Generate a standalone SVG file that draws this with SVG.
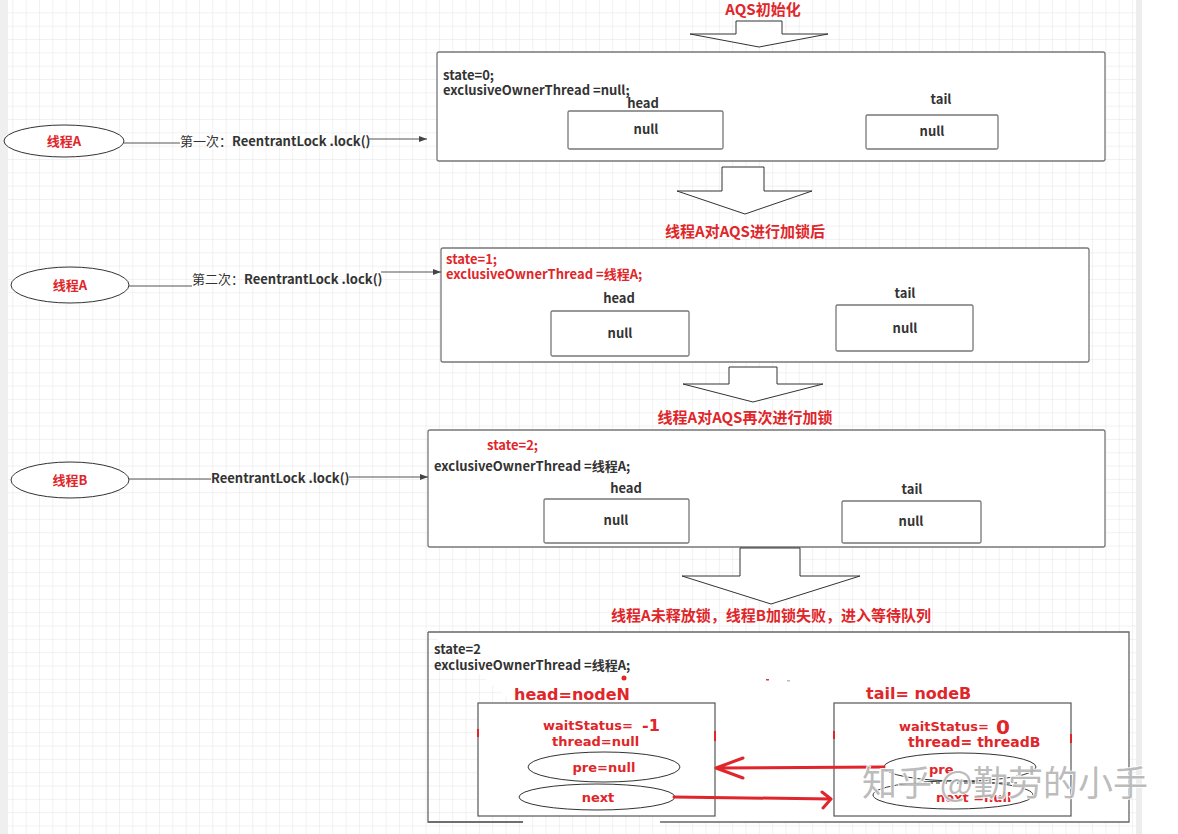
<svg xmlns="http://www.w3.org/2000/svg" width="1178" height="834" viewBox="0 0 1178 834">
<style>
.t{font-family:"Noto Sans CJK SC","Liberation Sans",sans-serif;font-weight:bold;font-size:13px;fill:#333}
.n{font-weight:normal}
.r{fill:#e0262a}
.ti{font-family:"Noto Sans CJK SC","Liberation Sans",sans-serif;font-weight:bold;font-size:15px;fill:#e0262a;text-anchor:middle}
.m{text-anchor:middle}
.box{fill:#fff;stroke:#777;stroke-width:1.3}
.inner{fill:#fff;stroke:#777;stroke-width:1.3}
.ell{fill:#fff;stroke:#333;stroke-width:1}
.barrow{fill:#fff;stroke:#333;stroke-width:1}
.ln{fill:none;stroke:#555;stroke-width:1.2}
.rn{font-family:"DejaVu Sans",sans-serif;font-weight:bold;fill:#e0262a}
.ra{fill:none;stroke:#e0262a;stroke-width:3;stroke-linecap:round;stroke-linejoin:round}
</style>
<defs>
<pattern id="grid" width="13.33" height="13.33" patternUnits="userSpaceOnUse">
<path d="M13.33 0V13.33H0" fill="none" stroke="#e4e4e4" stroke-width="1"/>
</pattern>
<marker id="ah" markerWidth="8" markerHeight="6" refX="8" refY="3" orient="auto" markerUnits="userSpaceOnUse">
<path d="M0 0L8 3L0 6z" fill="#444"/>
</marker>
</defs>
<rect width="1178" height="834" fill="#fff"/>
<rect x="8" y="0" width="1128" height="834" fill="url(#grid)"/>
<rect x="0" y="0" width="8" height="834" fill="#efefef"/>
<rect x="1136" y="0" width="6" height="834" fill="#ededed"/>

<g id="title1"><text class="ti" x="763" y="15">AQS初始化</text></g>
<g id="barrow1"><polygon class="barrow" points="736,21 782,21 782,34 828,34 759,47 690,34 736,34"/></g>

<g id="aqs1">
<rect class="box" x="437" y="52" width="668" height="109" rx="2"/>
<text class="t" x="443" y="80">state=0;</text>
<text class="t" x="443" y="95">exclusiveOwnerThread =null;</text>
<text class="t m" x="643" y="108">head</text>
<rect class="inner" x="568" y="111" width="155" height="38" rx="1.5"/>
<text class="t m" x="646" y="134">null</text>
<text class="t m" x="941" y="104">tail</text>
<rect class="inner" x="866" y="115" width="132" height="34" rx="1.5"/>
<text class="t m" x="932" y="136">null</text>
</g>

<g id="threadA1">
<ellipse class="ell" cx="64" cy="141" rx="60" ry="16"/>
<text class="t r m" x="64" y="146">线程A</text>
</g>

<g id="barrow2"><polygon class="barrow" points="722,167 764,167 764,191 812,191 745,214 677,191 722,191"/></g>
<g id="title2"><text class="ti" x="745" y="237">线程A对AQS进行加锁后</text></g>

<g id="aqs2">
<rect class="box" x="441" y="248" width="648" height="114" rx="2"/>
<text class="t r" x="446" y="264">state=1;</text>
<text class="t r" x="446" y="279">exclusiveOwnerThread =线程A;</text>
<text class="t m" x="619" y="303">head</text>
<rect class="inner" x="551" y="311" width="138" height="45" rx="1.5"/>
<text class="t m" x="620" y="338">null</text>
<text class="t m" x="905" y="298">tail</text>
<rect class="inner" x="836" y="305" width="137" height="46" rx="1.5"/>
<text class="t m" x="905" y="333">null</text>
</g>

<g id="threadA2">
<ellipse class="ell" cx="70" cy="285" rx="59" ry="18"/>
<text class="t r m" x="70" y="290">线程A</text>
</g>

<g id="barrow3"><polygon class="barrow" points="729,367 777,367 777,384 823,384 753,402 683,384 729,384"/></g>
<g id="title3"><text class="ti" x="745" y="423">线程A对AQS再次进行加锁</text></g>

<g id="aqs3">
<rect class="box" x="428" y="430" width="677" height="117" rx="2"/>
<text class="t r" x="487" y="450">state=2;</text>
<text class="t" x="434" y="471">exclusiveOwnerThread =线程A;</text>
<text class="t m" x="626" y="493">head</text>
<rect class="inner" x="544" y="499" width="145" height="44" rx="1.5"/>
<text class="t m" x="616" y="525">null</text>
<text class="t m" x="912" y="494">tail</text>
<rect class="inner" x="842" y="501" width="139" height="42" rx="1.5"/>
<text class="t m" x="911" y="526">null</text>
</g>

<g id="threadB">
<ellipse class="ell" cx="70" cy="480" rx="59" ry="18"/>
<text class="t r m" x="70" y="485">线程B</text>
</g>

<g id="barrow4"><polygon class="barrow" points="740,548 800,548 800,576 860,576 771,604 682,576 740,576"/></g>
<g id="title4"><text class="ti" x="771" y="621">线程A未释放锁，线程B加锁失败，进入等待队列</text></g>

<g id="aqs4">
<path d="M428 632H1129V822H660M523 822H428Z" fill="#fff" stroke="#666" stroke-width="1.3"/>
<path d="M523 822H428V632" fill="none" stroke="#666" stroke-width="1.3"/>
<text class="t" x="434" y="654">state=2</text>
<text class="t" x="434" y="670">exclusiveOwnerThread =线程A;</text>
<circle cx="624" cy="678" r="2.5" fill="#e0262a"/>
<rect x="766" y="679" width="3" height="1.5" fill="#b44"/>
<rect x="787" y="680" width="3" height="1.5" fill="#bbb"/>
</g>

<g id="nodeN">
<text class="rn" x="514" y="700" font-size="16">head=nodeN</text>
<rect x="478" y="703" width="237" height="113" fill="#fff" stroke="#555" stroke-width="1.2"/>
<path d="M478 729V737M715 731V741" stroke="#e0262a" stroke-width="2"/>
<text class="rn" x="543" y="730" font-size="13">waitStatus=</text>
<text class="rn" x="642" y="731" font-size="16">-1</text>
<text class="rn" x="552" y="746" font-size="13">thread=null</text>
<ellipse class="ell" cx="604" cy="767" rx="76" ry="15"/>
<text class="rn m" x="604" y="772" font-size="13">pre=null</text>
<ellipse class="ell" cx="597" cy="797" rx="78" ry="13"/>
<text class="rn m" x="598" y="802" font-size="13">next</text>
</g>

<g id="nodeB">
<text class="rn" x="866" y="699" font-size="16">tail= nodeB</text>
<rect x="834" y="703" width="237" height="113" fill="#fff" stroke="#555" stroke-width="1.2"/>
<path d="M834 731V739M1071 734V743" stroke="#e0262a" stroke-width="2"/>
<text class="rn" x="899" y="731" font-size="13">waitStatus=</text>
<text class="rn" x="996" y="734" font-size="20">0</text>
<text class="rn" x="908" y="747" font-size="14">thread= threadB</text>
<ellipse class="ell" cx="960" cy="767" rx="76" ry="14"/>
<text class="rn" x="929" y="774" font-size="13">pre</text>
<ellipse class="ell" cx="953" cy="795" rx="80" ry="14"/>
<path d="M915 783H1020" stroke="#333" stroke-width="1" stroke-dasharray="4 3"/>
<text class="rn" x="936" y="802" font-size="13">next =null</text>
</g>

<g id="connectors">
<path class="ln" d="M124 143H180"/>
<text class="t" x="180" y="146"><tspan class="n">第一次：</tspan>ReentrantLock .lock()</text>
<path class="ln" d="M369 139H427" marker-end="url(#ah)"/>
<path class="ln" d="M129 286H192"/>
<text class="t" x="192" y="284"><tspan class="n">第二次：</tspan>ReentrantLock .lock()</text>
<path class="ln" d="M381 272H441" marker-end="url(#ah)"/>
<path class="ln" d="M129 479H211"/>
<text class="t" x="211" y="483">ReentrantLock .lock()</text>
<path class="ln" d="M349 477H428" marker-end="url(#ah)"/>
<path class="ra" d="M884 767L716 768M743 758L716 768L743 778"/>
<path class="ra" d="M674 797L831 799M822 792L831 799L823 808"/>
</g>

<g id="watermark">
<text x="862" y="796" font-family="Noto Sans CJK SC,sans-serif" font-size="35" fill="#b0b0b0" fill-opacity="0.85" stroke="#fff" stroke-width="1.5" paint-order="stroke">知乎 @勤劳的小手</text>
</g>
</svg>
